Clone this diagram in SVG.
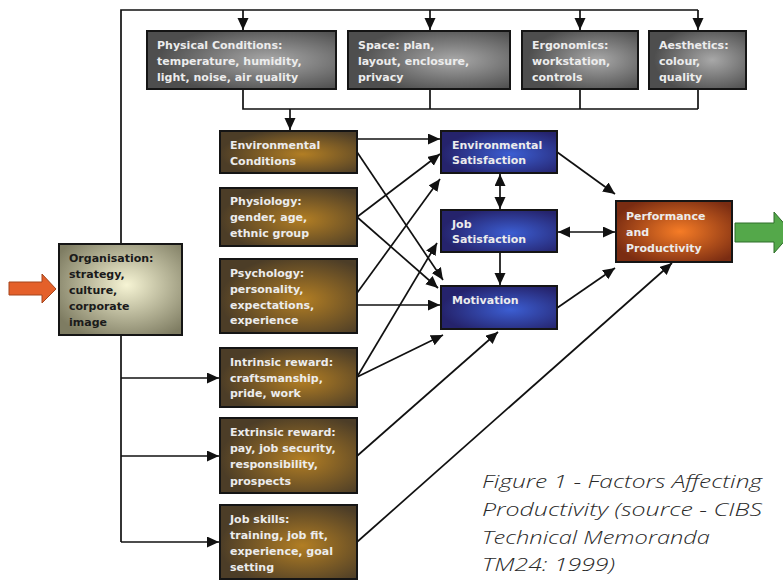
<svg xmlns="http://www.w3.org/2000/svg" width="783" height="581" viewBox="0 0 783 581">
<defs>
<style>
.box{stroke:#151515;stroke-width:2}
.t{font-family:"DejaVu Sans",Verdana,sans-serif;font-size:11px;font-weight:bold;fill:#ececec}
.td{font-family:"DejaVu Sans",Verdana,sans-serif;font-size:11px;font-weight:bold;fill:#1a1a1a}
.ln{fill:none;stroke:#111;stroke-width:1.7}
.cap{font-family:"Open Sans","Liberation Sans",Arial,sans-serif;font-style:italic;font-weight:300;font-size:19px;fill:#2a2a2a}
</style>
<radialGradient id="gGray" cx="0.65" cy="0.5" r="0.6">
<stop offset="0" stop-color="#a8a8a8"/><stop offset="1" stop-color="#4e4e4e"/>
</radialGradient>
<radialGradient id="gBrown" cx="0.6" cy="0.55" r="0.6">
<stop offset="0" stop-color="#b27e24"/><stop offset="1" stop-color="#4c3d27"/>
</radialGradient>
<radialGradient id="gOrg" cx="0.55" cy="0.45" r="0.65">
<stop offset="0" stop-color="#f6f4d4"/><stop offset="1" stop-color="#7e7c62"/>
</radialGradient>
<radialGradient id="gBlue" cx="0.6" cy="0.55" r="0.6">
<stop offset="0" stop-color="#3c5ed2"/><stop offset="1" stop-color="#25236c"/>
</radialGradient>
<radialGradient id="gPerf" cx="0.55" cy="0.5" r="0.6">
<stop offset="0" stop-color="#f67c26"/><stop offset="1" stop-color="#7a2c12"/>
</radialGradient>
<marker id="ah" markerUnits="userSpaceOnUse" markerWidth="13" markerHeight="12" refX="12" refY="5.5" orient="auto-start-reverse" viewBox="0 0 13 12">
<path d="M0,0 L12,5.5 L0,11 z" fill="#111"/>
</marker>
</defs>

<g id="connectors">
<polyline class="ln" points="121,245 121,10 698,10"/>
<line class="ln" x1="243" y1="10" x2="243" y2="30" marker-end="url(#ah)"/>
<line class="ln" x1="430" y1="10" x2="430" y2="30" marker-end="url(#ah)"/>
<line class="ln" x1="580" y1="10" x2="580" y2="30" marker-end="url(#ah)"/>
<line class="ln" x1="698" y1="10" x2="698" y2="30" marker-end="url(#ah)"/>
<polyline class="ln" points="243,89 243,109 698,109"/>
<line class="ln" x1="430" y1="89" x2="430" y2="109"/>
<line class="ln" x1="580" y1="89" x2="580" y2="109"/>
<line class="ln" x1="698" y1="89" x2="698" y2="109"/>
<line class="ln" x1="290" y1="109" x2="290" y2="130" marker-end="url(#ah)"/>
<line class="ln" x1="121" y1="335" x2="121" y2="542"/>
<line class="ln" x1="121" y1="378" x2="219" y2="378" marker-end="url(#ah)"/>
<line class="ln" x1="121" y1="456" x2="219" y2="456" marker-end="url(#ah)"/>
<line class="ln" x1="121" y1="542" x2="219" y2="542" marker-end="url(#ah)"/>
<line class="ln" x1="357" y1="139" x2="440" y2="139" marker-end="url(#ah)"/>
<line class="ln" x1="357" y1="152" x2="443" y2="280" marker-end="url(#ah)"/>
<line class="ln" x1="357" y1="217" x2="440" y2="154" marker-end="url(#ah)"/>
<line class="ln" x1="357" y1="217" x2="438" y2="288" marker-end="url(#ah)"/>
<line class="ln" x1="357" y1="293" x2="440" y2="179" marker-end="url(#ah)"/>
<line class="ln" x1="357" y1="305" x2="440" y2="305" marker-end="url(#ah)"/>
<line class="ln" x1="357" y1="377" x2="437" y2="243" marker-end="url(#ah)"/>
<line class="ln" x1="357" y1="377" x2="443" y2="335" marker-end="url(#ah)"/>
<line class="ln" x1="357" y1="456" x2="498" y2="332" marker-end="url(#ah)"/>
<line class="ln" x1="357" y1="542" x2="672" y2="263" marker-end="url(#ah)"/>
<line class="ln" x1="557" y1="152" x2="615" y2="194" marker-end="url(#ah)"/>
<line class="ln" x1="557" y1="308" x2="615" y2="268" marker-end="url(#ah)"/>
<line class="ln" x1="500" y1="174" x2="500" y2="209" marker-start="url(#ah)" marker-end="url(#ah)"/>
<line class="ln" x1="500" y1="252" x2="500" y2="285" marker-end="url(#ah)"/>
<line class="ln" x1="558" y1="232" x2="615" y2="232" marker-start="url(#ah)" marker-end="url(#ah)"/>
</g>

<g id="in-arrow">
<path d="M9,282 L42,282 L42,274 L56,289 L42,303 L42,295 L9,295 z" fill="#e4602a" stroke="#a4451c" stroke-width="1"/>
</g>
<g id="out-arrow">
<path d="M735,223 L774,223 L774,212 L792,232.5 L774,253 L774,242 L735,242 z" fill="#54a84a" stroke="#2f6e2a" stroke-width="1"/>
</g>

<g id="physical">
<rect class="box" x="147" y="31" width="189" height="58" fill="url(#gGray)"/>
<text class="t" x="157" y="49">Physical Conditions:</text>
<text class="t" x="157" y="65">temperature, humidity,</text>
<text class="t" x="157" y="81">light, noise, air quality</text>
</g>
<g id="space">
<rect class="box" x="348" y="31" width="162" height="58" fill="url(#gGray)"/>
<text class="t" x="358" y="49">Space: plan,</text>
<text class="t" x="358" y="65">layout, enclosure,</text>
<text class="t" x="358" y="81">privacy</text>
</g>
<g id="ergonomics">
<rect class="box" x="522" y="31" width="116" height="58" fill="url(#gGray)"/>
<text class="t" x="532" y="49">Ergonomics:</text>
<text class="t" x="532" y="65">workstation,</text>
<text class="t" x="532" y="81">controls</text>
</g>
<g id="aesthetics">
<rect class="box" x="649" y="31" width="97" height="58" fill="url(#gGray)"/>
<text class="t" x="659" y="49">Aesthetics:</text>
<text class="t" x="659" y="65">colour,</text>
<text class="t" x="659" y="81">quality</text>
</g>

<g id="organisation">
<rect class="box" x="59" y="244" width="123" height="91" fill="url(#gOrg)"/>
<text class="td" x="69" y="262">Organisation:</text>
<text class="td" x="69" y="278">strategy,</text>
<text class="td" x="69" y="294">culture,</text>
<text class="td" x="69" y="310">corporate</text>
<text class="td" x="69" y="326">image</text>
</g>

<g id="env-conditions">
<rect class="box" x="220" y="131" width="137" height="42" fill="url(#gBrown)"/>
<text class="t" x="230" y="149">Environmental</text>
<text class="t" x="230" y="165">Conditions</text>
</g>
<g id="physiology">
<rect class="box" x="220" y="188" width="137" height="58" fill="url(#gBrown)"/>
<text class="t" x="230" y="205">Physiology:</text>
<text class="t" x="230" y="221">gender, age,</text>
<text class="t" x="230" y="237">ethnic group</text>
</g>
<g id="psychology">
<rect class="box" x="220" y="259" width="137" height="74" fill="url(#gBrown)"/>
<text class="t" x="230" y="277">Psychology:</text>
<text class="t" x="230" y="293">personality,</text>
<text class="t" x="230" y="309">expectations,</text>
<text class="t" x="230" y="324">experience</text>
</g>
<g id="intrinsic">
<rect class="box" x="220" y="348" width="137" height="59" fill="url(#gBrown)"/>
<text class="t" x="230" y="366">Intrinsic reward:</text>
<text class="t" x="230" y="382">craftsmanship,</text>
<text class="t" x="230" y="397">pride, work</text>
</g>
<g id="extrinsic">
<rect class="box" x="220" y="418" width="137" height="75" fill="url(#gBrown)"/>
<text class="t" x="230" y="436">Extrinsic reward:</text>
<text class="t" x="230" y="452">pay, job security,</text>
<text class="t" x="230" y="468">responsibility,</text>
<text class="t" x="230" y="485">prospects</text>
</g>
<g id="job-skills">
<rect class="box" x="220" y="505" width="137" height="74" fill="url(#gBrown)"/>
<text class="t" x="230" y="523">Job skills:</text>
<text class="t" x="230" y="539">training, job fit,</text>
<text class="t" x="230" y="555">experience, goal</text>
<text class="t" x="230" y="571">setting</text>
</g>

<g id="env-satisfaction">
<rect class="box" x="441" y="131" width="116" height="42" fill="url(#gBlue)"/>
<text class="t" x="452" y="149">Environmental</text>
<text class="t" x="452" y="164">Satisfaction</text>
</g>
<g id="job-satisfaction">
<rect class="box" x="441" y="210" width="116" height="42" fill="url(#gBlue)"/>
<text class="t" x="452" y="228">Job</text>
<text class="t" x="452" y="243">Satisfaction</text>
</g>
<g id="motivation">
<rect class="box" x="441" y="286" width="116" height="43" fill="url(#gBlue)"/>
<text class="t" x="452" y="304">Motivation</text>
</g>
<g id="performance">
<rect class="box" x="616" y="201" width="116" height="61" fill="url(#gPerf)"/>
<text class="t" x="626" y="220">Performance</text>
<text class="t" x="626" y="236">and</text>
<text class="t" x="626" y="252">Productivity</text>
</g>

<g id="caption">
<text class="cap" x="482" y="488" textLength="280" lengthAdjust="spacingAndGlyphs">Figure 1 - Factors Affecting</text>
<text class="cap" x="482" y="516" textLength="280" lengthAdjust="spacingAndGlyphs">Productivity (source - CIBS</text>
<text class="cap" x="482" y="544" textLength="228" lengthAdjust="spacingAndGlyphs">Technical Memoranda</text>
<text class="cap" x="482" y="571" textLength="133" lengthAdjust="spacingAndGlyphs">TM24: 1999)</text>
</g>
</svg>
